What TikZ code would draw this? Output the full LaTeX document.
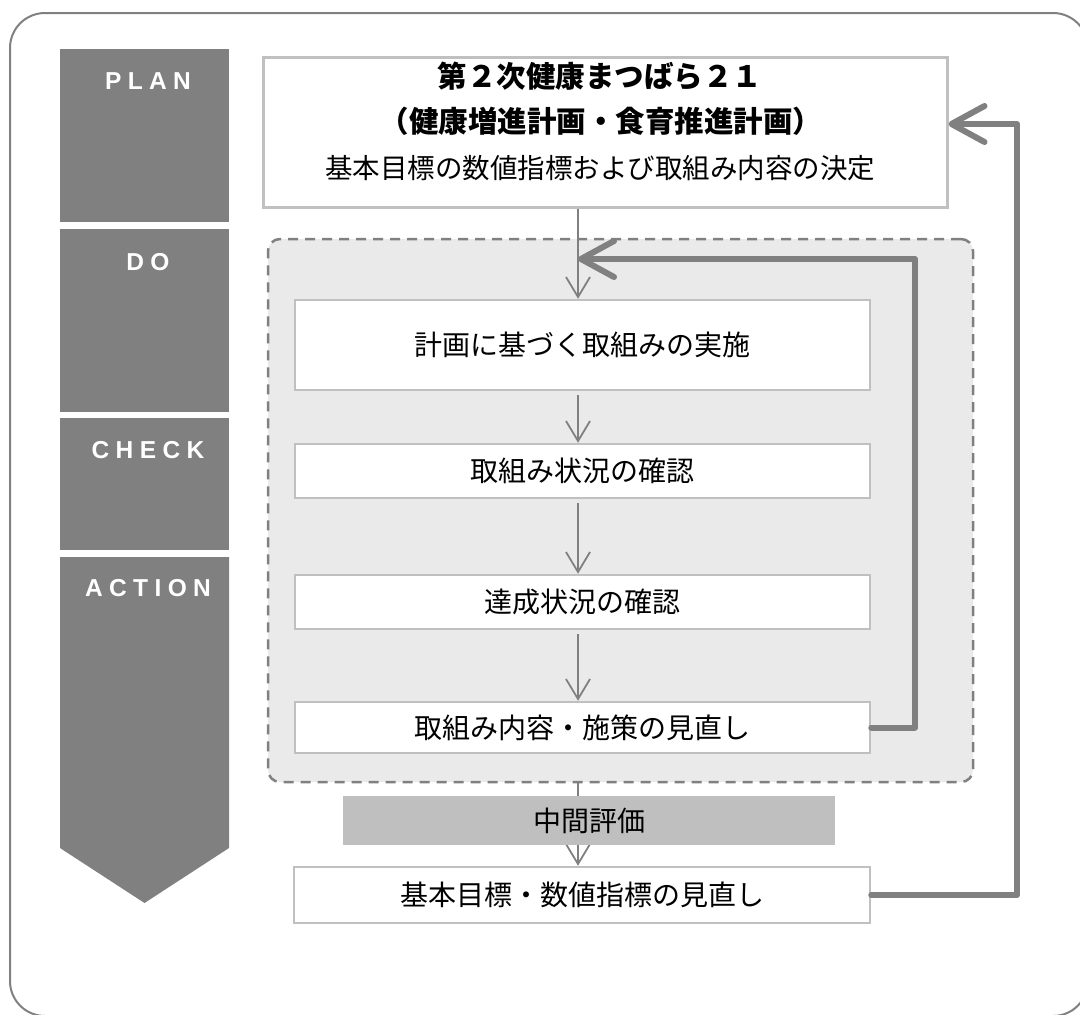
\documentclass[tikz,border=0pt]{standalone}
\usepackage{fontspec}
\setmainfont{Liberation Sans}
\newfontfamily\jp{Noto Sans CJK JP}
\newfontfamily\lat[LetterSpace=26]{Liberation Sans}
\usetikzlibrary{arrows.meta}
\definecolor{dgray}{HTML}{808080}
\definecolor{lgray}{HTML}{C0C0C0}
\definecolor{rgfill}{HTML}{EAEAEA}
\definecolor{bandgray}{HTML}{BFBFBF}
\begin{document}
\begin{tikzpicture}[x=1pt,y=-1pt,
  phasebox/.style={fill=dgray, draw=none, inner sep=0pt, minimum width=169pt},
  phaselabel/.style={text=white, font=\lat\bfseries\fontsize{24.5}{28}\selectfont, inner sep=0pt},
  stepbox/.style={draw=lgray, line width=2.5pt, fill=white, inner sep=0pt, minimum width=575pt, font=\jp\fontsize{28}{32}\selectfont},
  jptext/.style={inner sep=0pt, font=\jp\fontsize{27.5}{32}\selectfont},
  thinarrow/.style={draw=dgray, line width=1.8pt, -{Straight Barb[length=20pt,width=24pt]}},
  fbarrow/.style={draw=dgray, line width=6pt, line join=round, line cap=round, -{Straight Barb[round,length=33pt,width=36pt]}},
]
\useasboundingbox (0,0) rectangle (1080,1015);
% outer frame
\draw[dgray, line width=2pt, rounded corners=35pt] (10,13) rectangle (1088,1016);

% phase column
\node (pPlan) [phasebox, minimum height=173pt] at (144.5,135.5) {};
\node (pDo) [phasebox, minimum height=183pt] at (144.5,320.5) {};
\node (pCheck) [phasebox, minimum height=132pt] at (144.5,484) {};
\fill[dgray] (60,557) -- (229,557) -- (229,848) -- (144.5,903) -- (60,848) -- cycle;
\node (lPlan) [phaselabel] at (148,81) {PLAN};
\node (lDo) [phaselabel] at (148,262) {DO};
\node (lCheck) [phaselabel] at (148,450) {CHECK};
\node (lAction) [phaselabel] at (148,588) {ACTION};

% group region
\node (grp) [draw=dgray, dash pattern=on 10pt off 7pt, line width=2.5pt, fill=rgfill, rounded corners=12pt, minimum width=705pt, minimum height=543pt, inner sep=0pt] at (620.5,510.5) {};

% plan box
\node (top) [draw=lgray, line width=3pt, fill=white, minimum width=684pt, minimum height=150pt, inner sep=0pt] at (605,132) {};
\node (t1) [jptext, font=\jp\bfseries\fontsize{29.5}{32}\selectfont] at (600,76) {第２次健康まつばら２１};
\node (t2) [jptext, font=\jp\bfseries\fontsize{29.5}{32}\selectfont] at (601,121) {（健康増進計画・食育推進計画）};
\node (t3) [jptext] at (600,168) {基本目標の数値指標および取組み内容の決定};

% steps
\node (b1) [stepbox, minimum height=90pt] at (582.5,345) {計画に基づく取組みの実施};
\node (b2) [stepbox, minimum height=54pt] at (582.5,471) {取組み状況の確認};
\node (b3) [stepbox, minimum height=54pt] at (582.5,602) {達成状況の確認};
\node (b4) [stepbox, minimum height=51pt] at (582.5,727.5) {取組み内容・施策の見直し};
\node (b5) [stepbox, minimum width=576pt, minimum height=56pt] at (582,895) {基本目標・数値指標の見直し};

\coordinate (ax) at (578,0);
\coordinate (c1) at (915,259);
\coordinate (h1) at (578,259);
\coordinate (c2) at (1017,124);

% feedback arrows
\draw[fbarrow] (b4.east) -| (c1) -- (h1);
\draw[fbarrow] (b5.east) -| (c2) -- (top.east |- c2);

% thin arrows
\draw[thinarrow] (top.south -| ax) -- (b1.north -| ax);
\draw[thinarrow, shorten <=4pt] (b1.south -| ax) -- (b2.north -| ax);
\draw[thinarrow, shorten <=4pt] (b2.south -| ax) -- (b3.north -| ax);
\draw[thinarrow, shorten <=4pt] (b3.south -| ax) -- (b4.north -| ax);
\draw[thinarrow] (grp.south -| ax) -- (b5.north -| ax);

% mid evaluation band
\node (mid) [fill=bandgray, minimum width=492pt, minimum height=49pt, inner sep=0pt, font=\jp\fontsize{28}{32}\selectfont] at (589,820.5) {中間評価};
\end{tikzpicture}
\end{document}
